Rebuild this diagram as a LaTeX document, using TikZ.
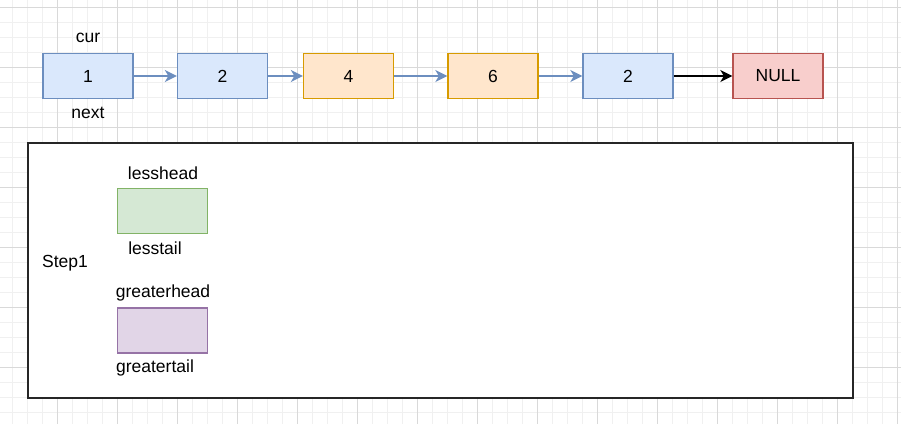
\documentclass[tikz,border=0pt]{standalone}
\usepackage{fontspec}
\setmainfont{Liberation Sans}
\usetikzlibrary{arrows.meta}
\definecolor{bluef}{HTML}{DAE8FC}\definecolor{blues}{HTML}{6C8EBF}
\definecolor{orf}{HTML}{FFE6CC}\definecolor{ors}{HTML}{D79B00}
\definecolor{redf}{HTML}{F8CECC}\definecolor{reds}{HTML}{B85450}
\definecolor{grf}{HTML}{D5E8D4}\definecolor{grs}{HTML}{82B366}
\definecolor{puf}{HTML}{E1D5E7}\definecolor{pus}{HTML}{9673A6}
\definecolor{gmin}{HTML}{F0F0F0}\definecolor{gmaj}{HTML}{D9D9D9}
\tikzset{
  box/.style={draw, line width=1.3pt, minimum width=90pt, minimum height=45pt, inner sep=0pt, font=\fontsize{17.5}{20}\selectfont},
  bluebox/.style={box, fill=bluef, draw=blues},
  orbox/.style={box, fill=orf, draw=ors},
  redbox/.style={box, fill=redf, draw=reds},
  grbox/.style={box, fill=grf, draw=grs},
  pubox/.style={box, fill=puf, draw=pus},
  lbl/.style={inner sep=0pt, font=\fontsize{17.5}{20}\selectfont},
  link/.style={draw=blues, line width=1.5pt, -{Stealth[length=12pt,width=12pt,inset=3.5pt]}},
  blink/.style={draw=black, line width=1.5pt, -{Stealth[length=12pt,width=12pt,inset=3.5pt]}},
}
\begin{document}
\begin{tikzpicture}[x=1pt,y=-1pt]
\useasboundingbox (0,0) rectangle (901,424);
\fill[white] (0,0) rectangle (901,424);
% minor grid
\foreach \x in {12,27,...,897} \draw[gmin, line width=1pt] (\x,0) -- (\x,424);
\foreach \y in {7,22,...,422} \draw[gmin, line width=1pt] (0,\y) -- (901,\y);
% major grid
\foreach \x in {57,117,...,897} \draw[gmaj, line width=1pt] (\x,0) -- (\x,424);
\foreach \y in {7,67,...,422} \draw[gmaj, line width=1pt] (0,\y) -- (901,\y);

\node[bluebox] (n1) at (88,76) {1};
\node[bluebox] (n2) at (222.5,76) {2};
\node[orbox] (n4) at (348.5,76) {4};
\node[orbox] (n6) at (493,76) {6};
\node[bluebox] (n2b) at (628,76) {2};
\node[redbox] (null) at (778,76) {NULL};
\node[lbl] (cur) at (88,38) {cur};
\node[lbl] (next) at (88,113) {next};

\draw[link] (n1) -- (n2);
\draw[link] (n2) -- (n4);
\draw[link] (n4) -- (n6);
\draw[link] (n6) -- (n2b);
\draw[blink] (n2b) -- (null);

\node[draw=black!85, fill=white, line width=1.5pt, minimum width=825pt, minimum height=255pt, inner sep=0pt] (frame) at (440.5,270.5) {};
\node[lbl] (step) at (65,263) {Step1};
\node[grbox] (less) at (162.5,211) {};
\node[lbl] (lh) at (163,173) {lesshead};
\node[lbl] (lt) at (155,248) {lesstail};
\node[pubox] (gre) at (162.5,330.5) {};
\node[lbl] (gh) at (163,293) {greaterhead};
\node[lbl] (gt) at (155,368) {greatertail};
\end{tikzpicture}
\end{document}
